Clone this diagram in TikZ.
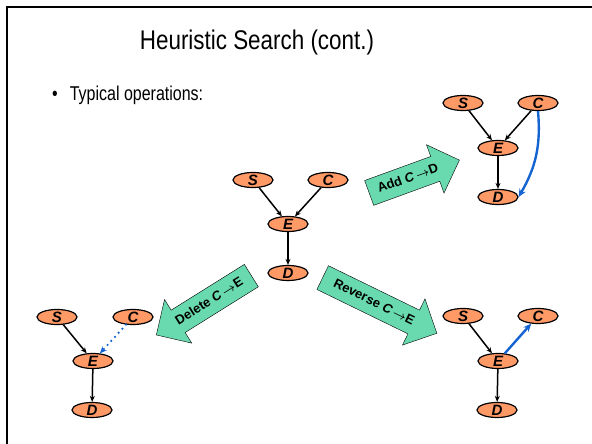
\documentclass[tikz,border=0pt]{standalone}
\usepackage{fontspec}
\usepackage{graphicx}
\setmainfont{Liberation Sans}
\usetikzlibrary{shapes.geometric,shapes.arrows,arrows.meta}

\definecolor{nodeorange}{RGB}{255,153,102}
\definecolor{opgreen}{RGB}{105,218,175}
\definecolor{edgeblue}{RGB}{20,100,210}

\tikzset{
  var/.style={ellipse, draw, line width=1.2pt, fill=nodeorange,
    minimum width=40pt, minimum height=15pt, inner sep=0pt,
    font=\fontsize{15}{15}\selectfont\bfseries\itshape},
  edge/.style={-{Stealth[length=6pt,width=5pt]}, line width=1.5pt},
  newedge/.style={-{Stealth[length=8pt,width=7pt]}, line width=2.4pt, edgeblue},
  oparrow/.style={single arrow, draw, fill=opgreen, single arrow head extend=12.5pt,
    text height=10pt, text depth=3pt, inner ysep=6.5pt, inner xsep=2pt,
    minimum width=51pt, font=\fontsize{13}{13}\selectfont\bfseries},
}

\begin{document}
\begin{tikzpicture}[x=1pt,y=1pt]
  \useasboundingbox (0,0) rectangle (592,-444);

  % --- frame and text ---
  \draw[line width=2pt] (7,-444) -- (7,-7) -- (592,-7);
  \node[anchor=base, inner sep=0pt] (title) at (257,-49.5)
    {\scalebox{0.83}[1]{\fontsize{27}{30}\selectfont Heuristic Search (cont.)}};
  \node[anchor=base west, inner sep=0pt] (item) at (52,-100)
    {\scalebox{0.8}[1]{\fontsize{20}{24}\selectfont\textbullet\hspace{15pt}Typical operations:}};

  % --- central network ---
  \node[var] (s0) at (253,-180) {S};
  \node[var] (c0) at (328,-180) {C};
  \node[var] (e0) at (288,-224) {E};
  \node[var] (d0) at (288,-273) {D};
  \draw[edge] (s0) -- (e0);
  \draw[edge] (c0) -- (e0);
  \draw[edge] (e0) -- (d0);

  % --- add C->D ---
  \node[var] (s1) at (463,-103) {S};
  \node[var] (c1) at (538,-103) {C};
  \node[var] (e1) at (498,-148) {E};
  \node[var] (d1) at (498,-197) {D};
  \draw[edge] (s1) -- (e1);
  \draw[edge] (c1) -- (e1);
  \draw[edge] (e1) -- (d1);
  \draw[newedge] (c1.south) to[out=-85, in=60] (d1.east);

  % --- delete C->E ---
  \node[var] (s2) at (57,-317) {S};
  \node[var] (c2) at (133,-317) {C};
  \node[var] (e2) at (93,-361) {E};
  \node[var] (d2) at (92,-410) {D};
  \draw[edge] (s2) -- (e2);
  \draw[edge] (e2) -- (d2);
  \draw[edgeblue, line width=2.4pt, dash pattern=on 0pt off 5.5pt, line cap=round,
    -{Stealth[length=7pt,width=6pt]}] (c2) -- (e2);

  % --- reverse C->E ---
  \node[var] (s3) at (463,-316) {S};
  \node[var] (c3) at (538,-316) {C};
  \node[var] (e3) at (498,-361) {E};
  \node[var] (d3) at (497,-410) {D};
  \draw[edge] (s3) -- (e3);
  \draw[edge] (e3) -- (d3);
  \draw[newedge] (e3) -- (c3);

  % --- operations ---
  \node[oparrow, rotate=20, minimum height=96pt, anchor=tail] (addop)
    at (369,-193) {Add \textit{C}\,{\boldmath$\to$}D};
  \node[oparrow, shape border rotate=180, rotate=32, minimum height=112pt, anchor=tail] (delop)
    at (251.5,-275.5) {Delete \textit{C}\,{\boldmath$\to$}E};
  \node[oparrow, rotate=-26, minimum height=127pt, anchor=tail] (revop)
    at (322.5,-277.5) {Reverse \textit{C}\,{\boldmath$\to$}E};

\end{tikzpicture}
\end{document}
